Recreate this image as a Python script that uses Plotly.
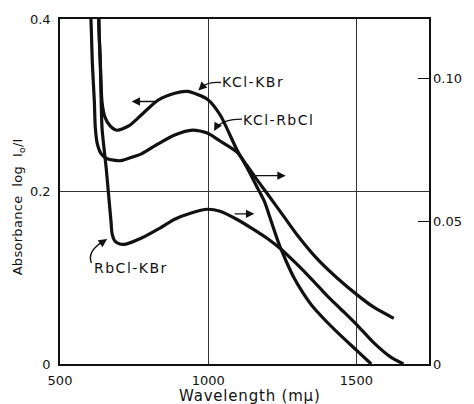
import plotly.graph_objects as go

# ---- data ----
# KCl-KBr, read on the left axis (absorbance)
wl_kcl_kbr = [629, 632, 636, 642, 652, 669, 692, 732, 775, 831, 887, 930, 997, 1040, 1096,
              1129, 1162, 1189, 1212, 1238, 1262, 1288, 1321, 1354, 1394, 1444, 1500, 1550]
abs_kcl_kbr = [0.413, 0.384, 0.349, 0.303, 0.286, 0.276, 0.271, 0.276, 0.289, 0.306, 0.314,
               0.316, 0.307, 0.289, 0.249, 0.229, 0.207, 0.189, 0.166, 0.140, 0.120, 0.101,
               0.082, 0.066, 0.051, 0.034, 0.016, 0.0]

# KCl-RbCl, read on the right axis
wl_kcl_rbcl = [603, 606, 609, 616, 619, 626, 639, 659, 705, 748, 775, 831, 887, 947, 997, 1040,
               1096, 1129, 1162, 1199, 1255, 1301, 1368, 1434, 1510, 1560, 1626]
abs_kcl_rbcl = [0.1247, 0.1160, 0.1056, 0.0917, 0.0830, 0.0771, 0.0736, 0.0719, 0.0712, 0.0726,
                0.0736, 0.0771, 0.0802, 0.0819, 0.0809, 0.0781, 0.0743, 0.0698, 0.0649, 0.0597,
                0.0517, 0.0451, 0.0368, 0.0302, 0.0236, 0.0198, 0.0160]

# RbCl-KBr, read on the right axis
wl_rbcl_kbr = [631, 632, 636, 639, 642, 656, 666, 672, 676, 685, 702, 722, 775, 831, 887, 940,
               997, 1040, 1096, 1146, 1202, 1245, 1295, 1351, 1404, 1460, 1500, 1560, 1616, 1659]
abs_rbcl_kbr = [0.1247, 0.1160, 0.1056, 0.0917, 0.0823, 0.0684, 0.0569, 0.0500, 0.0455, 0.0431,
                0.0420, 0.0420, 0.0441, 0.0472, 0.0507, 0.0528, 0.0542, 0.0535, 0.0507, 0.0476,
                0.0438, 0.0403, 0.0354, 0.0295, 0.0236, 0.0180, 0.0139, 0.0073, 0.0024, 0.0]

x_ticks = [500, 1000, 1500]
x_ticklabels = ["500", "1000", "1500"]
left_ticks = [0, 0.2, 0.4]
left_ticklabels = ["0", "0.2", "0.4"]
right_ticks = [0, 0.05, 0.10]
right_ticklabels = ["0", "0.05", "0.10"]

FONT = "DejaVu Sans"
INK = "#111111"

fig = go.Figure()
line_style = dict(color=INK, width=3.2, shape="spline", smoothing=0.7)
fig.add_trace(go.Scatter(x=wl_kcl_kbr, y=abs_kcl_kbr, mode="lines", line=line_style,
                         name="KCl-KBr", yaxis="y"))
fig.add_trace(go.Scatter(x=wl_kcl_rbcl, y=abs_kcl_rbcl, mode="lines", line=line_style,
                         name="KCl-RbCl", yaxis="y2"))
fig.add_trace(go.Scatter(x=wl_rbcl_kbr, y=abs_rbcl_kbr, mode="lines", line=line_style,
                         name="RbCl-KBr", yaxis="y2"))

def spaced(t, ls=1.5):
    return '<span style="letter-spacing:%spx">%s</span>' % (ls, t)

annotations = []
# curve labels
for txt, x, y in [("KCl-KBr", 1041, 0.3264), ("KCl-RbCl", 1112, 0.2833), ("RbCl-KBr", 609, 0.1115)]:
    annotations.append(dict(x=x, y=y, xref="x", yref="y", text=spaced(txt), showarrow=False,
                            xanchor="left", yanchor="middle",
                            font=dict(family=FONT, size=14, color=INK)))

# arrow heads (ends of the curved leaders) and horizontal axis-indicator arrows
arrow_specs = [
    # (head x, head y, tail x, tail y)
    (966.9, 0.3172, 982.0, 0.3222),
    (1019.9, 0.2701, 1031.0, 0.2770),
    (658.9, 0.1448, 638.0, 0.1400),
    (741.7, 0.3043, 831.1, 0.3043),
    (1261.6, 0.2184, 1155.6, 0.2184),
    (1155.6, 0.1741, 1084.4, 0.1741),
]
for hx, hy, tx, ty in arrow_specs:
    annotations.append(dict(x=hx, y=hy, ax=tx, ay=ty, xref="x", yref="y", axref="x", ayref="y",
                            text="", showarrow=True, arrowhead=2, arrowsize=1.2,
                            arrowwidth=1.4, arrowcolor=INK, standoff=0, startstandoff=0))

# axis titles
annotations.append(dict(x=0.516, y=-0.092, xref="paper", yref="paper",
                        text=spaced("Wavelength (m\u03bc)", 0.8), showarrow=False,
                        xanchor="center", yanchor="middle",
                        font=dict(family=FONT, size=15, color=INK)))
annotations.append(dict(x=-0.112, y=0.456, xref="paper", yref="paper",
                        text=spaced("Absorbance  log  I<sub>o</sub>/I", 0.3), showarrow=False,
                        textangle=-90, xanchor="center", yanchor="middle",
                        font=dict(family=FONT, size=13, color=INK)))

shapes = [
    dict(type="path", xref="x", yref="y", line=dict(color=INK, width=1.4),
         path="M 1043.0,0.3264 Q 996.7,0.3276 975.0,0.3200"),
    dict(type="path", xref="x", yref="y", line=dict(color=INK, width=1.4),
         path="M 1114.0,0.2839 Q 1049.7,0.2839 1025.0,0.2735"),
    dict(type="path", xref="x", yref="y", line=dict(color=INK, width=1.4),
         path="M 606.0,0.1172 Q 589.4,0.1310 650.0,0.1430"),
]

fig.update_layout(
    width=474, height=404,
    margin=dict(l=60, r=38, t=16, b=40),
    paper_bgcolor="white", plot_bgcolor="white",
    showlegend=False,
    font=dict(family=FONT, size=13, color=INK),
    xaxis=dict(range=[500, 1745], tickvals=x_ticks, ticktext=x_ticklabels,
               showgrid=True, gridcolor="#333333", gridwidth=1,
               showline=True, linecolor=INK, linewidth=1.6, mirror=True,
               ticks="", zeroline=False, ticklabelstandoff=4,
               tickfont=dict(family=FONT, size=13, color=INK)),
    yaxis=dict(range=[0, 0.4], tickvals=left_ticks, ticktext=left_ticklabels,
               showgrid=True, gridcolor="#333333", gridwidth=1,
               showline=True, linecolor=INK, linewidth=1.6, mirror=True,
               ticks="", zeroline=False, ticklabelstandoff=5,
               tickfont=dict(family=FONT, size=13, color=INK)),
    yaxis2=dict(range=[0, 0.12083], tickvals=right_ticks, ticktext=right_ticklabels,
                overlaying="y", side="right", showgrid=False, showline=False,
                zeroline=False, ticks="inside", ticklen=11, tickwidth=1.3, tickcolor=INK,
                ticklabelstandoff=3,
                tickfont=dict(family=FONT, size=13, color=INK)),
    annotations=annotations,
    shapes=shapes,
)

fig.write_html("out.html", config={"displayModeBar": False},
               post_script="document.body.style.margin='0';document.body.style.overflow='hidden';")
